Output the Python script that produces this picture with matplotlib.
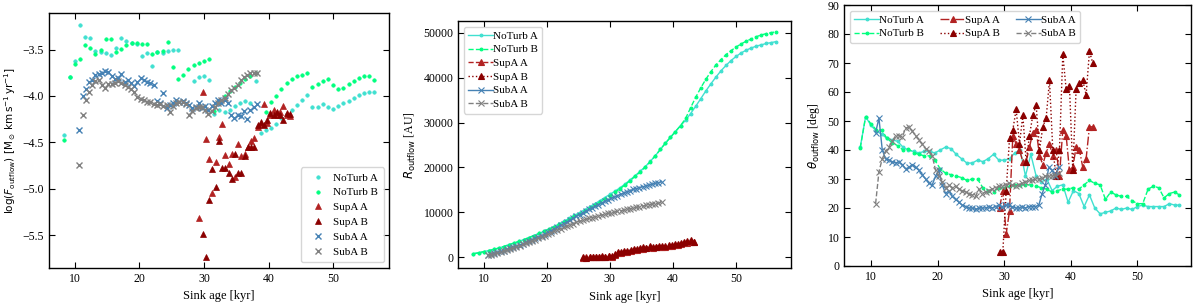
import numpy as np
import matplotlib
matplotlib.use("Agg")
import matplotlib.pyplot as plt

nan = np.nan

# ---------------- data ----------------
T_NT = [8.4, 9.2, 10.0, 10.8, 11.6, 12.4, 13.2, 14.0, 14.8, 15.6, 16.4, 17.2, 18.0, 18.8, 19.6,
        20.4, 21.2, 22.0, 22.8, 23.6, 24.4, 25.2, 26.0, 26.8, 27.6, 28.4, 29.2, 30.0, 30.8, 31.6,
        32.4, 33.2, 34.0, 34.8, 35.6, 36.4, 37.2, 38.0, 38.8, 39.6, 40.4, 41.2, 42.0, 42.8, 43.6,
        44.4, 45.2, 46.0, 46.8, 47.6, 48.4, 49.2, 50.0, 50.8, 51.6, 52.4, 53.2, 54.0, 54.8, 55.6, 56.3]

T_SUB = [10.7, 11.2, 11.7, 12.2, 12.7, 13.2, 13.7, 14.2, 14.7, 15.2, 15.7, 16.2, 16.7, 17.2,
         17.7, 18.2, 18.7, 19.2, 19.7, 20.2, 20.7, 21.2, 21.7, 22.2, 22.7, 23.2, 23.7, 24.2,
         24.7, 25.2, 25.7, 26.2, 26.7, 27.2, 27.7, 28.2, 28.7, 29.2, 29.7, 30.2, 30.7, 31.2,
         31.7, 32.2, 32.7, 33.2, 33.7, 34.2, 34.7, 35.2, 35.7, 36.2, 36.7, 37.2, 37.7, 38.2]

T_SUP = [25.8, 26.3, 26.8, 27.3, 27.8, 28.3, 28.8, 29.3, 29.8, 30.3, 30.8, 31.3, 31.8, 32.3,
         32.8, 33.3, 33.8, 34.3, 34.8, 35.3, 35.8, 36.3, 36.8, 37.3, 37.8, 38.3, 38.8, 39.3,
         39.8, 40.3, 40.8, 41.3, 41.8, 42.3, 42.8, 43.3]

# log outflow force
F_NTA = [-4.42, -3.80, -3.62, -3.24, -3.37, -3.38, -3.52, -3.53, -3.54, -3.56, -3.48, -3.38, -3.41,
         -3.43, -3.44, -3.57, -3.54, -3.68, -3.53, -3.54, -3.52, -3.50, -3.50, nan, nan, -3.84,
         -3.80, -3.78, -3.83, -4.19, -4.15, -4.17, -4.15, -4.11, -4.08, -4.05, -4.08, -3.84, -4.40,
         -4.37, -4.34, -4.30, -4.24, -4.19, -4.15, -4.10, -4.04, -3.99, -4.12, -4.12, -4.09, -4.12,
         -4.14, -4.11, -4.08, -4.05, -4.02, -3.99, -3.97, -3.96, -3.96]
F_NTB = [-4.47, -3.80, -3.66, -3.60, -3.45, -3.48, -3.55, -3.50, -3.39, -3.39, -3.53, -3.49, -3.45,
         -3.43, -3.43, -3.44, -3.44, -3.55, -3.53, -3.52, -3.42, -3.69, -3.82, -3.77, -3.71, -3.67,
         -3.64, -3.62, -3.60, -4.16, -4.08, -4.00, -3.95, -3.90, -3.86, -3.82, -3.79, -3.75, nan,
         -4.17, -4.06, -4.00, -3.93, -3.86, -3.82, -3.79, -3.77, -3.75, -3.90, -3.87, -3.84, -3.82,
         -3.88, -3.93, -3.91, -3.87, -3.84, -3.81, -3.79, -3.79, -3.83]
F_SAA = [-4.37, -4.00, -3.92, -3.85, -3.83, -3.77, -3.76, -3.75, -3.73, -3.74, -3.79, -3.82, -3.81,
         -3.76, -3.85, -3.83, -3.86, -3.89, -3.85, -3.81, -3.83, -3.85, -3.86, -3.88, -4.05, -4.08,
         -3.97, -4.13, -4.10, -4.08, -4.04, -4.06, -4.05, -4.08, -4.10, -4.13, -4.12, -4.08, -4.13,
         -4.11, -4.15, -4.11, -4.08, -4.04, -4.08, -4.04, -4.08, -4.20, -4.24, -4.21, -4.22, -4.16,
         -4.25, -4.15, -4.12, -4.09]
F_SAB = [-4.74, -4.21, -4.04, -3.96, -3.88, -3.84, -3.83, -3.88, -3.91, -3.87, -3.87, -3.86, -3.84,
         -3.86, -3.88, -3.90, -3.93, -3.96, -4.01, -4.03, -4.04, -4.06, -4.06, -4.09, -4.10, -4.09,
         -4.11, -4.10, -4.17, -4.11, -4.08, -4.06, -4.07, -4.09, -4.21, -4.16, -4.13, -4.12, -4.12,
         -4.15, -4.19, -4.16, -4.12, -4.08, -4.04, -4.02, -3.98, -3.94, -3.91, -3.88, -3.83, -3.80,
         -3.77, -3.75, -3.75, -3.75]
F_SPA = [nan, nan, nan, nan, nan, nan, nan,
         -5.32, -3.96, -4.46, -4.68, -5.05, -4.71, -4.44, -4.30, -4.64, -4.73, -4.63, -4.87, -4.52,
         -4.65, -4.63, -4.55, -4.48, -4.45, -4.33, -4.30, -4.09, -4.29, -4.21, -4.15, -4.21, -4.17,
         -4.11, -4.21, -4.22]
F_SPB = [nan, nan, nan, nan, nan, nan, nan,
         nan, -5.49, -5.73, -5.12, -4.79, -4.98, -4.49, -4.78, -4.78, -4.83, -4.90, -4.63, -4.83,
         -4.83, -4.65, -4.55, -4.55, -4.55, -4.31, -4.28, -4.31, -4.26, -4.18, -4.21, -4.17, -4.21,
         -4.26, -4.18, -4.19]

# outflow radius [AU]
R_NTA = [800, 1000, 1250, 1500, 1750, 2050, 2400, 2800, 3150, 3550, 3950, 4400, 4850, 5300, 5800,
         6300, 6850, 7450, 8050, 8700, 9350, 9950, 10600, 11250, 11900, 12600, 13300, 14000, 14700,
         15450, 16300, 17200, 18150, 19150, 20150, 21350, 22600, 24000, 25400, 26700, 28000, 29300,
         30500, 32000, 33600, 35300, 37000, 38600, 40100, 41500, 42700, 43800, 44700, 45500, 46100,
         46600, 47000, 47300, 47600, 47800, 48000]
R_NTB = [800, 1000, 1250, 1500, 1750, 2050, 2400, 2800, 3150, 3550, 3950, 4400, 4850, 5300, 5800,
         6300, 6800, 7350, 7900, 8500, 9100, 9700, 10300, 10950, 11600, 12300, 13000, 13700, 14450,
         15250, 16100, 17050, 18000, 19000, 20050, 21300, 22600, 24000, 25400, 26700, 28000, 29300,
         30900, 33300, 35600, 37700, 39600, 41300, 42800, 44000, 45100, 46000, 46800, 47500, 48100,
         48600, 49100, 49500, 49800, 50000, 50200]
R_SAA = [500, 700, 900, 1100, 1300, 1500, 1750, 2000, 2250, 2500, 2750, 3000, 3300, 3600, 3900,
         4200, 4500, 4850, 5200, 5550, 5900, 6300, 6700, 7100, 7500, 7900, 8300, 8700, 9100, 9500,
         9900, 10300, 10700, 11000, 11400, 11750, 12100, 12450, 12800, 13100, 13400, 13700, 14000,
         14300, 14600, 14850, 15100, 15300, 15500, 15700, 15900, 16100, 16300, 16450, 16600, 16800]
R_SAB = [400, 600, 800, 1000, 1200, 1400, 1600, 1850, 2100, 2350, 2600, 2850, 3100, 3350, 3650,
         3950, 4250, 4550, 4850, 5150, 5450, 5750, 6050, 6350, 6650, 6950, 7250, 7500, 7750, 8000,
         8250, 8450, 8650, 8850, 9050, 9200, 9400, 9600, 9750, 9900, 10050, 10200, 10350, 10500,
         10650, 10800, 10950, 11100, 11250, 11400, 11550, 11700, 11850, 11950, 12050, 12200]
R_SPA = [-100, 100, 0, 100, 0, 100, 50, 150, 200, 100, 450, 900, 1000, 1100, 1250, 1400, 1550,
         1700, 1800, 1750, 2000, 2200, 2100, 2200, 2300, 2250, 2400, 2500, 2600, 2700, 2800, 2900,
         3100, 3250, 3400, 3500]
R_SPB = [0, -50, 150, 0, 150, 50, 200, 0, 300, 250, 700, 1100, 1200, 1300, 1500, 1600, 1800, 1900,
         2000, 2300, 2100, 2500, 2300, 2400, 2500, 2600, 2500, 2700, 2800, 2900, 3000, 3100, 3300,
         3600, 3800, 3300]

# outflow opening angle [deg]
TH_NTA = [41.0, 51.5, 48.5, 46.5, 45.5, 44.0, 43.5, 43.0, 41.0, 40.0, 39.5, 39.0, 39.5, 39.5, 39.0,
          40.0, 41.0, 40.5, 38.5, 37.0, 35.5, 35.5, 36.5, 36.0, 37.0, 38.5, 36.5, 36.5, 37.0, 39.0,
          40.0, 31.0, 38.5, 31.0, 29.0, 30.0, 26.0, 27.5, 28.0, 22.0, 26.0, 25.0, 20.5, 24.5, 20.0,
          18.0, 18.5, 19.0, 20.0, 19.5, 20.0, 19.5, 20.5, 21.0, 20.5, 20.5, 20.5, 20.5, 21.5, 21.0, 21.0]
TH_NTB = [40.8, 51.5, 49.0, 47.0, 47.0, 44.0, 42.5, 41.5, 40.0, 40.5, 39.0, 38.5, 38.0, 38.0, 36.5,
          33.5, 32.0, 31.5, 31.0, 30.5, 29.5, 30.0, 30.0, 27.0, 26.0, 25.5, 27.0, 27.0, 27.5, 28.0,
          28.0, 28.0, 28.0, 27.5, 27.0, 26.5, 25.5, 26.0, 26.5, 26.5, 27.0, 26.5, 28.0, 29.5, 28.5,
          28.0, 23.0, 25.5, 24.5, 24.0, 24.0, 22.5, 21.5, 21.5, 26.5, 27.5, 27.0, 23.5, 25.0, 25.5, 24.5]
TH_SAA = [46, 51, 40, 37, 36.5, 36, 35.5, 36, 35, 33.5, 34, 35, 34, 33, 31.5, 30, 28.5, 28, 31, 33,
          28, 25, 26, 24, 23, 22, 21, 20.5, 20, 20, 19.5, 20, 20, 20, 20.5, 20, 20.5, 21, 20.5, 21,
          21, 20.5, 20, 20, 20.5, 20, 20.5, 20.5, 20.5, 21, 25, 28, 34, 33, 31, 34]
TH_SAB = [21.5, 32.5, 37, 39.5, 41, 43, 45, 45, 44.5, 47.5, 48, 46.5, 45, 43.5, 42, 40.5, 39.5, 38,
          33, 31, 29, 27, 28, 27, 27.5, 26.5, 26, 25.5, 25, 24.5, 24, 26.5, 25, 25.5, 26, 26.5, 27,
          27.5, 27.5, 28, 28.5, 28, 27.5, 28, 28.5, 29, 29.5, 29.5, 30, 30, 30.5, 31, 31, 31, 31.5, 32]
TH_SPA = [nan, nan, nan, nan, nan, nan, nan,
          20, 26, 11, 19, 45, 42, 40, 36, 36, 41, 46, 47, 38, 35, 39, 42, 38, 40, 31, 47, 45, 33,
          34, 41, 40, 34, 37, 48, 48]
TH_SPB = [nan, nan, nan, nan, nan, nan, nan,
          5, 5, 26, 44, 47, 54, 42, 52, 36, 45, 52, 55.5, 40, 48, 51, 64, 40, 31, 40, 73, 61, 62,
          33, 61, 63, 64, 59, 74, 70]

LABELS = ["NoTurb A", "NoTurb B", "SupA A", "SupA B", "SubA A", "SubA B"]
COLORS = ["turquoise", "springgreen", "firebrick", "darkred", "steelblue", "gray"]
MARKERS = [".", ".", "^", "^", "x", "x"]
LS2 = ["-", "--", "--", ":", "-", "--"]
LS3 = ["-", "--", "-.", ":", "-", "--"]

TIMES = [T_NT, T_NT, T_SUP, T_SUP, T_SUB, T_SUB]
FORCE = [F_NTA, F_NTB, F_SPA, F_SPB, F_SAA, F_SAB]
RADIUS = [R_NTA, R_NTB, R_SPA, R_SPB, R_SAA, R_SAB]
THETA = [TH_NTA, TH_NTB, TH_SPA, TH_SPB, TH_SAA, TH_SAB]

# ---------------- style ----------------
plt.rcParams["font.family"] = ["Liberation Serif", "DejaVu Serif"]
plt.rcParams["mathtext.fontset"] = "dejavusans"
plt.rcParams["xtick.direction"] = "in"
plt.rcParams["ytick.direction"] = "in"
plt.rcParams["xtick.top"] = True
plt.rcParams["ytick.right"] = True
plt.rcParams["xtick.major.size"] = 4
plt.rcParams["ytick.major.size"] = 4
plt.rcParams["xtick.labelsize"] = 8.5
plt.rcParams["ytick.labelsize"] = 8.5
plt.rcParams["axes.labelsize"] = 9
plt.rcParams["axes.linewidth"] = 1.0

fig = plt.figure(figsize=(12, 3.03), dpi=100)
W, H = 1200, 303

def axes_px(l, r, t, b):
    return fig.add_axes([l / W, (H - b) / H, (r - l) / W, (b - t) / H])

ax1 = axes_px(49, 389.3, 13.3, 267.7)
ax2 = axes_px(458.3, 791, 21, 268.3)
ax3 = axes_px(844.3, 1190.7, 5, 266)

# panel 1: outflow force
for t, y, lab, c, m in zip(TIMES, FORCE, LABELS, COLORS, MARKERS):
    ax1.plot(t, y, linestyle="none", marker=m, color=c, label=lab, ms=5,
             mew=1.0 if m == "x" else 0.5)
ax1.set_xlim(6.0, 58.7)
ax1.set_ylim(-5.85, -3.11)
ax1.set_yticks([-5.5, -5.0, -4.5, -4.0, -3.5])
ax1.set_xticks([10, 20, 30, 40, 50])
ax1.set_xlabel("Sink age [kyr]")
ax1.set_ylabel(r"$\log(F_{\rm outflow})\ [\rm M_\odot\,km\,s^{-1}\,yr^{-1}]$", fontsize=7.5,
               labelpad=3)
ax1.legend(loc="lower right", fontsize=8, handletextpad=0.4, borderpad=0.5, labelspacing=0.45)

# panel 2: outflow radius
for t, y, lab, c, m, ls in zip(TIMES, RADIUS, LABELS, COLORS, MARKERS, LS2):
    ax2.plot(t, y, linestyle=ls, marker=m, color=c, label=lab, ms=4, lw=1.0, mew=0.8)
ax2.set_xlim(6.0, 58.7)
ax2.set_ylim(-2450, 52600)
ax2.set_yticks([0, 10000, 20000, 30000, 40000, 50000])
ax2.set_xticks([10, 20, 30, 40, 50])
ax2.set_xlabel("Sink age [kyr]")
ax2.set_ylabel(r"$R_{\rm outflow}$ [AU]", fontsize=8.5)
ax2.legend(loc="upper left", fontsize=8, handlelength=2.2, handletextpad=0.0,
           borderpad=0.4, labelspacing=0.35)

# panel 3: opening angle
for t, y, lab, c, m, ls in zip(TIMES, THETA, LABELS, COLORS, MARKERS, LS3):
    ax3.plot(t, y, linestyle=ls, marker=m, color=c, label=lab,
             ms=5 if m == "^" else 4, lw=1.0, mew=0.8)
ax3.set_xlim(6.0, 58.0)
ax3.set_ylim(0, 90)
ax3.set_yticks(range(0, 91, 10))
ax3.set_xticks([10, 20, 30, 40, 50])
ax3.set_xlabel("Sink age [kyr]")
ax3.set_ylabel(r"$\theta_{\rm outflow}$ [deg]", fontsize=8.5)
ax3.legend(loc="upper left", ncol=3, fontsize=8, handlelength=2.2, handletextpad=0.0,
           borderpad=0.4, labelspacing=0.35, columnspacing=1.5)

fig.savefig("out.png", dpi=100)
